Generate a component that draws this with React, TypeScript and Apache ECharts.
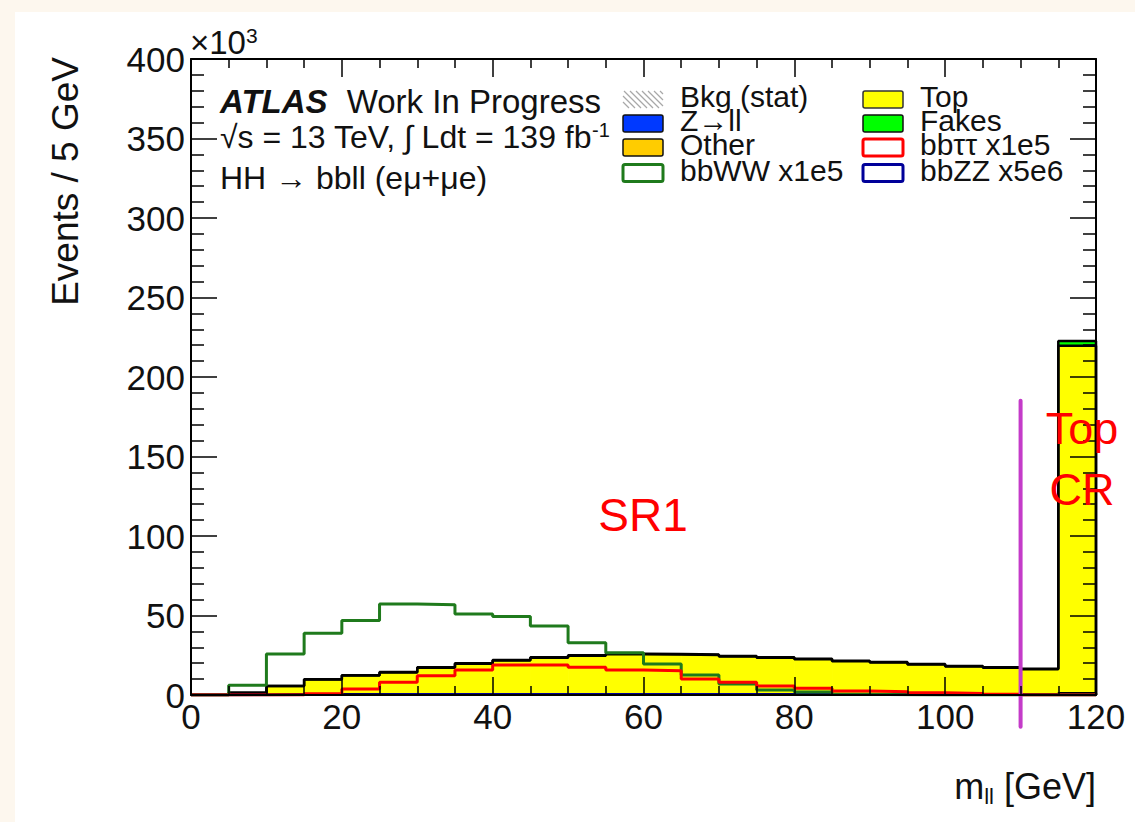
import React, { useEffect, useRef } from "react";
import * as echarts from "echarts";

// ---- data (thousands of events per 5 GeV bin) ----
const BIN_EDGES = [0, 5, 10, 15, 20, 25, 30, 35, 40, 45, 50, 55, 60, 65, 70, 75, 80, 85, 90, 95, 100, 105, 110, 115, 120];
const ZLL = [0, 0.05, 0.1, 0.1, 0.1, 0.1, 0.1, 0.1, 0.1, 0.1, 0.1, 0.1, 0.1, 0.1, 0.1, 0.1, 0.1, 0.1, 0.1, 0.1, 0.1, 0.1, 0.1, 0.3];
const OTHER = [0, 0.1, 0.2, 0.3, 0.3, 0.3, 0.3, 0.3, 0.3, 0.3, 0.3, 0.3, 0.3, 0.3, 0.3, 0.3, 0.3, 0.3, 0.3, 0.3, 0.3, 0.3, 0.3, 0.8];
const TOP = [0, 1.2, 5.3, 9.3, 11.8, 13.8, 16.7, 19.2, 21.3, 23.0, 24.3, 25.3, 25.1, 24.7, 23.8, 23.0, 22.1, 20.9, 20.1, 18.8, 17.5, 16.7, 15.8, 218.5];
const FAKES = [0, 0.05, 0.1, 0.2, 0.2, 0.3, 0.3, 0.3, 0.3, 0.3, 0.3, 0.3, 0.3, 0.3, 0.3, 0.3, 0.3, 0.3, 0.3, 0.3, 0.3, 0.3, 0.3, 3.0];
const BBWW = [0, 6.1, 25.8, 38.8, 46.8, 57.2, 56.8, 51.0, 49.3, 43.4, 32.9, 26.6, 19.5, 12.6, 6.9, 3.1, 1.9, 0.5, 0.2, 0, 0, 0, 0, 0];
const BBTT = [0, 0, 0, 0.8, 3.8, 8.0, 12.1, 15.7, 18.9, 18.9, 17.4, 15.7, 15.3, 10.0, 8.0, 5.7, 4.2, 2.5, 2.1, 1.4, 1.0, 0.5, 0, 0];
const BBZZ = [0, 0, 0.1, 0.2, 0.3, 0.4, 0.4, 0.5, 0.5, 0.5, 0.5, 0.5, 0.4, 0.4, 0.4, 0.3, 0.3, 0.3, 0.2, 0.2, 0.2, 0.1, 0.1, 0];

const STACK_NAMES = ["Z→ll", "Other", "Top", "Fakes"];
const STACK_VALUES = [ZLL, OTHER, TOP, FAKES];
const STACK_COLORS = ["#0039ff", "#ffcc00", "#ffff00", "#00ff00"];

const LEGEND_COL1 = ["Bkg (stat)", "Z→ll", "Other", "bbWW x1e5"];
const LEGEND_COL2 = ["Top", "Fakes", "bbττ x1e5", "bbZZ x5e6"];

const X_MIN = 0, X_MAX = 120, X_STEP = 20;
const Y_MIN = 0, Y_MAX = 400, Y_STEP = 50;
const CR_BOUNDARY = 110;
const CR_LINE_RANGE = [185, -20];

const FONT = "'Liberation Sans', Arial, Helvetica, sans-serif";

function stepData(values: number[]) {
  const pts: number[][] = values.map((v, i) => [BIN_EDGES[i], v]);
  pts.push([BIN_EDGES[BIN_EDGES.length - 1], values[values.length - 1]]);
  pts.push([BIN_EDGES[BIN_EDGES.length - 1], 0]);
  return pts;
}

export default function App() {
  const ref = useRef<HTMLDivElement>(null);
  useEffect(() => {
    if (!ref.current) return;
    const chart = echarts.init(ref.current, undefined, { renderer: "svg" });

    // cumulative stack
    const series: any[] = [];
    let base = BIN_EDGES.slice(0, -1).map(() => 0);
    const tops: number[][] = [];
    STACK_VALUES.forEach((vals, k) => {
      const top = base.map((b, i) => b + vals[i]);
      const data = vals.map((v, i) => [BIN_EDGES[i], BIN_EDGES[i + 1], base[i], top[i]]);
      const color = STACK_COLORS[k];
      series.push({
        type: "custom",
        name: STACK_NAMES[k],
        xAxisIndex: 0,
        yAxisIndex: 0,
        z: 2,
        encode: { x: [0, 1], y: [2, 3] },
        data,
        renderItem: (params: any, api: any) => {
          const p0 = api.coord([api.value(0), api.value(3)]);
          const p1 = api.coord([api.value(1), api.value(2)]);
          const h = p1[1] - p0[1];
          if (h <= 0) return null;
          return {
            type: "rect",
            shape: { x: p0[0], y: p0[1], width: p1[0] - p0[0] + 0.6, height: h },
            style: { fill: color },
          };
        },
      });
      tops.push(top);
      base = top;
    });
    tops.forEach((top, k) => {
      series.push({
        type: "line",
        name: STACK_NAMES[k] + " outline",
        step: "end",
        showSymbol: false,
        z: 3,
        data: stepData(top),
        lineStyle: { color: "#000", width: 2.5 },
      });
    });
    const signal = (name: string, vals: number[], color: string, w: number) => ({
      type: "line",
      name,
      step: "end",
      showSymbol: false,
      z: 4,
      data: stepData(vals),
      lineStyle: { color, width: w },
    });
    series.push(signal("bbZZ x5e6", BBZZ, "#000099", 2.5));
    series.push(signal("bbWW x1e5", BBWW, "#1f7a1c", 3));
    series.push(signal("bbττ x1e5", BBTT, "#ff0000", 3));
    series.push({
      type: "custom",
      name: "CR boundary",
      z: 6,
      clip: false,
      encode: { x: 0, y: [1, 2] },
      data: [[CR_BOUNDARY, CR_LINE_RANGE[0], CR_LINE_RANGE[1]]],
      renderItem: (params: any, api: any) => {
        const a = api.coord([api.value(0), api.value(1)]);
        const b = api.coord([api.value(0), api.value(2)]);
        return {
          type: "line",
          shape: { x1: a[0], y1: a[1], x2: b[0], y2: b[1] },
          style: { stroke: "#c43bc9", lineWidth: 4, lineCap: "round" },
        };
      },
    });

    const tickStyle = { color: "#000", width: 1.5 };
    const xAxisBase = {
      type: "value",
      min: X_MIN,
      max: X_MAX,
      interval: X_STEP,
      z: 10,
      axisLine: { show: true, onZero: false, lineStyle: { color: "#000", width: 2 } },
      axisTick: { show: true, inside: true, length: 18, lineStyle: tickStyle },
      minorTick: { show: true, splitNumber: 4, length: 9, lineStyle: tickStyle },
      splitLine: { show: false },
      minorSplitLine: { show: false },
    };
    const yAxisBase = {
      type: "value",
      min: Y_MIN,
      max: Y_MAX,
      interval: Y_STEP,
      z: 10,
      axisLine: { show: true, onZero: false, lineStyle: { color: "#000", width: 2 } },
      axisTick: { show: true, inside: true, length: 26, lineStyle: tickStyle },
      minorTick: { show: true, splitNumber: 5, length: 13, lineStyle: tickStyle },
      splitLine: { show: false },
      minorSplitLine: { show: false },
    };

    // legend graphics
    const legendEls: any[] = [];
    const rowY = [87.5, 111.5, 135.5, 161];
    const col1X = 608, col2X = 848, boxW = 40, boxH = 17;
    // hatch box for Bkg (stat)
    {
      const y0 = rowY[0] - boxH / 2, y1 = rowY[0] + boxH / 2;
      for (let s = -boxH; s < boxW; s += 6) {
        const xa = Math.max(col1X + s, col1X);
        const ya = y0 + (xa - (col1X + s));
        const xb = Math.min(col1X + s + boxH, col1X + boxW);
        const yb = y0 + (xb - (col1X + s));
        if (xb > xa) legendEls.push({ type: "line", shape: { x1: xa, y1: ya, x2: xb, y2: Math.min(yb, y1) }, style: { stroke: "#a8a8a8", lineWidth: 1.2 } });
      }
    }
    const boxStyles1 = [
      null,
      { fill: "#0039ff", stroke: "#111", lineWidth: 1.5 },
      { fill: "#ffcc00", stroke: "#111", lineWidth: 1.5 },
      { fill: "#fff", stroke: "#1f7a1c", lineWidth: 3 },
    ];
    const boxStyles2 = [
      { fill: "#ffff00", stroke: "#333", lineWidth: 1.5 },
      { fill: "#00ff00", stroke: "#111", lineWidth: 1.5 },
      { fill: "#fff", stroke: "#ff0000", lineWidth: 3 },
      { fill: "#fff", stroke: "#000099", lineWidth: 3 },
    ];
    const legendText = (x: number, y: number, t: string) => ({
      type: "text", x, y,
      style: { text: t, fontSize: 30, lineHeight: 22, fontFamily: FONT, fill: "#111", align: "left", verticalAlign: "middle" },
    });
    LEGEND_COL1.forEach((t, i) => {
      if (boxStyles1[i]) legendEls.push({ type: "rect", shape: { x: col1X, y: rowY[i] - boxH / 2, width: boxW, height: boxH, r: 2 }, style: boxStyles1[i] });
      legendEls.push(legendText(665, rowY[i] - 3, t));
    });
    LEGEND_COL2.forEach((t, i) => {
      legendEls.push({ type: "rect", shape: { x: col2X, y: rowY[i] - boxH / 2, width: boxW, height: boxH, r: 2 }, style: boxStyles2[i] });
      legendEls.push(legendText(905, rowY[i] - 3, t));
    });

    const graphic: any[] = [
      {
        type: "text", x: 205, y: 89, z: 20,
        style: {
          text: "{a|ATLAS}{b| Work In Progress}", fontFamily: FONT, verticalAlign: "middle", align: "left",
          rich: { a: { fontSize: 33, fontWeight: "bold", fontStyle: "italic", fill: "#111", fontFamily: FONT }, b: { fontSize: 33, fill: "#111", fontFamily: FONT, padding: [0, 0, 0, 10] } },
        },
      },
      {
        type: "text", x: 205, y: 125, z: 20,
        style: {
          text: "{a|√s = 13 TeV, ∫ Ldt = 139 fb}{s|-1}", fontFamily: FONT, verticalAlign: "middle", align: "left",
          rich: { a: { fontSize: 32, fill: "#111", fontFamily: FONT, lineHeight: 34 }, s: { fontSize: 20, fill: "#111", fontFamily: FONT, verticalAlign: "top", lineHeight: 34 } },
        },
      },
      { type: "text", x: 205, y: 166, z: 20, style: { text: "HH → bbll (eμ+μe)", fontSize: 32, lineHeight: 34, fontFamily: FONT, fill: "#111", verticalAlign: "middle", align: "left" } },
      {
        type: "text", x: 175, y: 30, z: 20,
        style: {
          text: "{a|×10}{s|3}", fontFamily: FONT, verticalAlign: "middle", align: "left",
          rich: { a: { fontSize: 33, fill: "#111", fontFamily: FONT, lineHeight: 34 }, s: { fontSize: 21, fill: "#111", fontFamily: FONT, verticalAlign: "top", lineHeight: 34 } },
        },
      },
      { type: "text", x: 50, y: 45, rotation: Math.PI / 2, z: 20, style: { text: "Events / 5 GeV", fontSize: 37, fontFamily: FONT, fill: "#111", align: "right", verticalAlign: "middle" } },
      {
        type: "text", x: 1081, y: 774, z: 20,
        style: {
          text: "{a|m}{s|ll}{a| [GeV]}", fontFamily: FONT, verticalAlign: "middle", align: "right",
          rich: { a: { fontSize: 36, fill: "#111", fontFamily: FONT, lineHeight: 42 }, s: { fontSize: 22, fill: "#111", fontFamily: FONT, verticalAlign: "bottom", lineHeight: 42 } },
        },
      },
      { type: "text", x: 628, y: 503, z: 20, style: { text: "SR1", fontSize: 46, fontFamily: FONT, fill: "#ff0000", align: "center", verticalAlign: "middle" } },
      { type: "text", x: 1067, y: 416, z: 20, style: { text: "Top", fontSize: 45, lineHeight: 46, fontFamily: FONT, fill: "#ff0000", align: "center", verticalAlign: "middle" } },
      { type: "text", x: 1067, y: 477, z: 20, style: { text: "CR", fontSize: 45, lineHeight: 46, fontFamily: FONT, fill: "#ff0000", align: "center", verticalAlign: "middle" } },
      { type: "group", z: 20, children: legendEls },
    ];

    chart.setOption({
      animation: false,
      backgroundColor: "#ffffff",
      textStyle: { fontFamily: FONT },
      grid: { left: 176, right: 39, top: 47, bottom: 127, containLabel: false },
      xAxis: [
        { ...xAxisBase, position: "bottom", axisLabel: { show: true, fontSize: 35, color: "#111", margin: 4, fontFamily: FONT } },
        { ...xAxisBase, position: "top", axisLabel: { show: false } },
      ],
      yAxis: [
        { ...yAxisBase, position: "left", axisLabel: { show: true, fontSize: 35, color: "#111", margin: 6, fontFamily: FONT } },
        { ...yAxisBase, position: "right", axisLabel: { show: false } },
      ],
      series,
      graphic,
    });
    return () => chart.dispose();
  }, []);

  return (
    <div style={{ position: "absolute", left: 0, top: 0, width: 1135, height: 822, background: "#fdf7ee" }}>
      <div ref={ref} style={{ position: "absolute", left: 15, top: 12, width: 1120, height: 810 }} />
    </div>
  );
}
